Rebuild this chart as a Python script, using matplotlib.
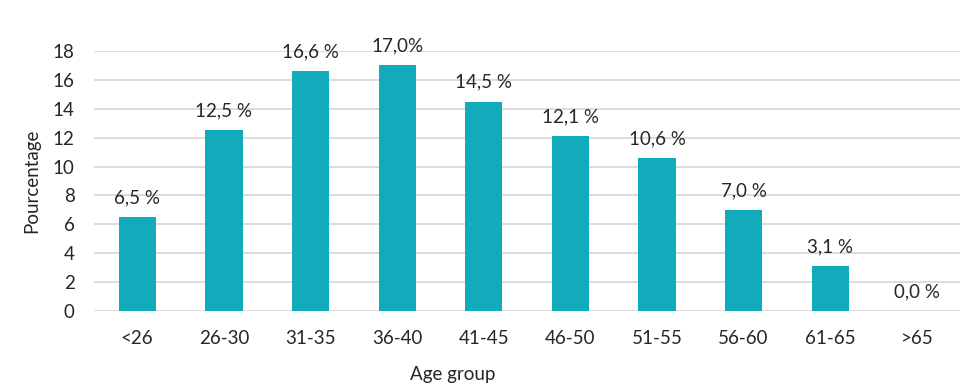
import matplotlib
matplotlib.use("Agg")
import matplotlib.pyplot as plt

AGE_GROUPS = ["<26", "26-30", "31-35", "36-40", "41-45", "46-50", "51-55", "56-60", "61-65", ">65"]
PERCENT = [6.5, 12.5, 16.6, 17.0, 14.5, 12.1, 10.6, 7.0, 3.1, 0.0]
LABELS = ["6,5 %", "12,5 %", "16,6 %", "17,0%", "14,5 %", "12,1 %", "10,6 %", "7,0 %", "3,1 %", "0,0 %"]

BAR = "#12abbc"
INK = "#262626"
GRID = "#d9d9d9"

plt.rcParams.update({
    "font.family": ["Lato", "DejaVu Sans"],
    "font.size": 13.5,
    "text.color": INK,
})

fig = plt.figure(figsize=(9.64, 3.89), dpi=100)
ax = fig.add_axes([0.0975, 0.2005, 0.8985, 0.6685])

x = range(len(AGE_GROUPS))
ax.bar(x, PERCENT, width=0.43, color=BAR, zorder=2)
for xi, v, lab in zip(x, PERCENT, LABELS):
    ax.text(xi, v + 0.75, lab, ha="center", va="bottom", fontsize=13.5,
            color=INK, clip_on=False)

ax.set_xlim(-0.5, len(AGE_GROUPS) - 0.5)
ax.set_ylim(0, 18)
ax.set_yticks(range(0, 19, 2))
ax.set_xticks(list(x))
ax.set_xticklabels(AGE_GROUPS)
ax.grid(axis="y", color=GRID, lw=1.3, zorder=0)
for s in ax.spines.values():
    s.set_visible(False)
ax.tick_params(length=0, colors=INK, labelsize=13.5)
ax.tick_params(axis="x", pad=14)
ax.tick_params(axis="y", pad=14)
ax.set_ylabel("Pourcentage", fontsize=13.5, color=INK, labelpad=9)
ax.set_xlabel("Age group", fontsize=13.5, color=INK, labelpad=13)
ax.xaxis.label.set_x(0.4145)

fig.savefig("out.png", dpi=100)
